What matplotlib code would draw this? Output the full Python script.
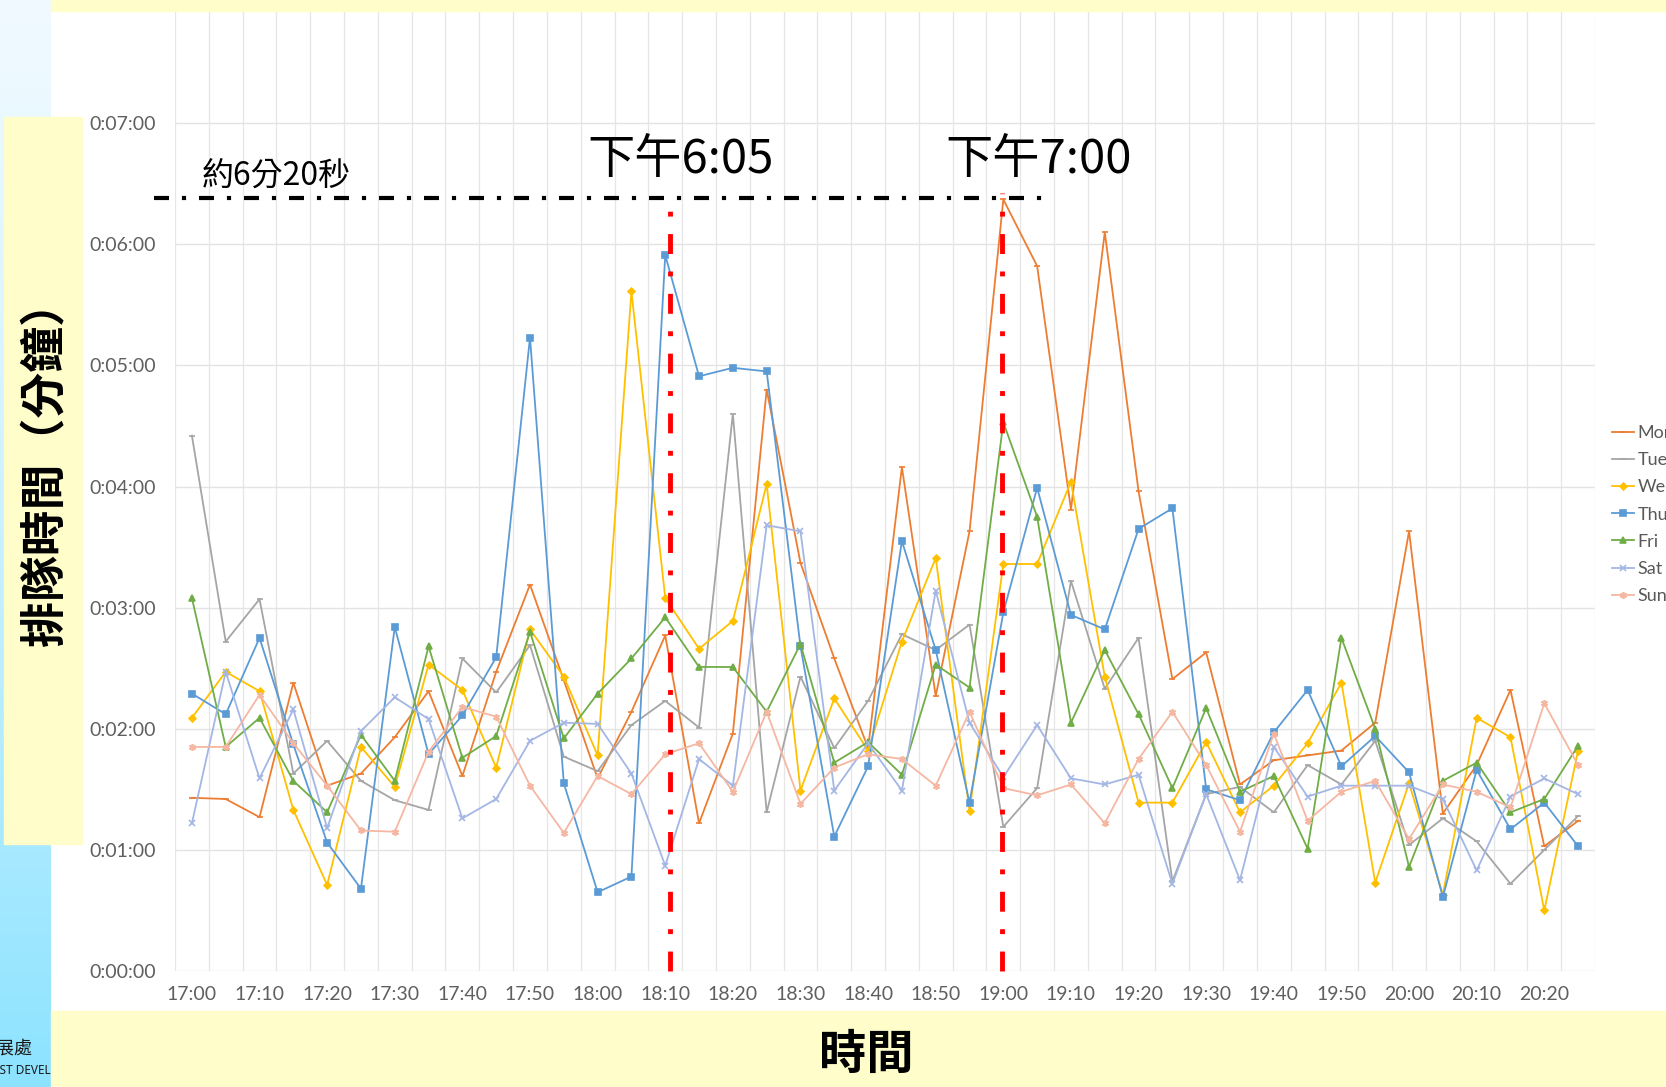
import numpy as np
import matplotlib
matplotlib.use("Agg")
import matplotlib.pyplot as plt
from matplotlib.patches import Rectangle
from matplotlib.ticker import FuncFormatter

plt.rcParams['font.family'] = ['Lato', 'Noto Sans CJK TC', 'DejaVu Sans']
CJK = ['Noto Sans CJK TC', 'DejaVu Sans']

# queue time in minutes, every 5 minutes from 17:00 to 20:25
times = [f"{17 + (m // 60)}:{m % 60:02d}" for m in range(0, 210, 5)]

mon = [1.43, 1.42, 1.27, 2.38, 1.53, 1.63, 1.93, 2.31, 1.61, 2.47, 3.19, 2.40, 1.59, 2.14,
       2.77, 1.22, 1.96, 4.80, 3.37, 2.58, 1.84, 4.16, 2.27, 3.63, 6.37, 5.82, 3.81, 6.10,
       3.96, 2.41, 2.63, 1.54, 1.74, 1.78, 1.82, 2.05, 3.63, 1.30, 1.70, 2.32, 1.03, 1.24]
tue = [4.42, 2.72, 3.07, 1.63, 1.90, 1.57, 1.41, 1.33, 2.58, 2.30, 2.69, 1.77, 1.65, 2.03,
       2.23, 2.01, 4.60, 1.31, 2.43, 1.84, 2.23, 2.78, 2.65, 2.86, 1.19, 1.51, 3.22, 2.33,
       2.75, 0.74, 1.46, 1.52, 1.31, 1.70, 1.54, 1.90, 1.04, 1.26, 1.07, 0.72, 1.00, 1.28]
wed = [2.09, 2.47, 2.31, 1.33, 0.71, 1.85, 1.52, 2.53, 2.32, 1.68, 2.82, 2.43, 1.78, 5.61,
       3.08, 2.66, 2.89, 4.02, 1.49, 2.25, 1.82, 2.72, 3.41, 1.32, 3.36, 3.36, 4.04, 2.43,
       1.39, 1.39, 1.89, 1.31, 1.53, 1.88, 2.38, 0.73, 1.55, 0.63, 2.09, 1.93, 0.50, 1.82]
thu = [2.29, 2.12, 2.75, 1.87, 1.06, 0.68, 2.84, 1.79, 2.11, 2.59, 5.23, 1.55, 0.65, 0.78,
       5.91, 4.91, 4.98, 4.95, 2.68, 1.11, 1.69, 3.55, 2.65, 1.39, 2.96, 3.99, 2.94, 2.82,
       3.65, 3.82, 1.50, 1.41, 1.97, 2.32, 1.69, 1.94, 1.64, 0.61, 1.66, 1.17, 1.39, 1.03]
fri = [3.08, 1.85, 2.09, 1.57, 1.31, 1.95, 1.57, 2.68, 1.76, 1.94, 2.80, 1.92, 2.29, 2.58,
       2.92, 2.51, 2.51, 2.14, 2.70, 1.72, 1.89, 1.62, 2.53, 2.34, 4.53, 3.75, 2.05, 2.65,
       2.12, 1.51, 2.17, 1.48, 1.61, 1.01, 2.75, 2.00, 0.86, 1.57, 1.72, 1.31, 1.42, 1.86]
sat = [1.22, 2.47, 1.59, 2.16, 1.18, 1.98, 2.26, 2.08, 1.26, 1.42, 1.90, 2.05, 2.04, 1.63,
       0.87, 1.75, 1.53, 3.68, 3.63, 1.49, 1.88, 1.49, 3.14, 2.05, 1.60, 2.03, 1.59, 1.54,
       1.62, 0.72, 1.46, 0.75, 1.85, 1.44, 1.53, 1.53, 1.53, 1.42, 0.83, 1.44, 1.59, 1.46]
sun = [1.85, 1.85, 2.28, 1.88, 1.53, 1.16, 1.15, 1.81, 2.18, 2.10, 1.53, 1.14, 1.61, 1.46,
       1.79, 1.88, 1.48, 2.14, 1.38, 1.68, 1.79, 1.75, 1.53, 2.14, 1.51, 1.45, 1.54, 1.22,
       1.75, 2.14, 1.70, 1.15, 1.96, 1.24, 1.48, 1.57, 1.09, 1.54, 1.48, 1.35, 2.21, 1.70]

days = ['Mon', 'Tue', 'Wed', 'Thu', 'Fri', 'Sat', 'Sun']
values = [mon, tue, wed, thu, fri, sat, sun]
colors = ['#ED7D31', '#A5A5A5', '#FFC000', '#5B9BD5', '#70AD47', '#A4B6E4', '#F5B7A2']
markers = ['_', '_', 'D', 's', '^', 'x', (6, 2, 0)]
msizes = [4, 4, 3.5, 4.5, 4.5, 4, 5]

ref_level = 6.38          # 約6分20秒
peak1_idx, peak1_top = 14.14, 6.33
peak2_idx, peak2_top = 23.97, 6.42

W, H = 1666, 1087


def fx(x):
    return x / W


def fy(y):
    return 1 - y / H


fig = plt.figure(figsize=(W / 100, H / 100), dpi=100)
fig.patch.set_facecolor('white')

# left gradient strip of the slide
strip = fig.add_axes([0, 0, fx(51), 1])
grad = np.linspace(0, 1, 256)[:, None]
top_c = np.array([0.94, 0.98, 1.0])
bot_c = np.array([0.55, 0.89, 1.0])
img = top_c + (bot_c - top_c) * grad[..., None] ** 1.3
strip.imshow(img, aspect='auto', extent=(0, 1, 0, 1), origin='upper')
strip.set_xlim(0, 1)
strip.set_ylim(0, 1)
strip.axis('off')
strip.text(0.64, 1 - 1049 / H, '發展處', ha='right', va='center', fontsize=13,
           family=CJK, color='#1a1a1a', clip_on=True)
strip.text(1.0, 1 - 1071 / H, 'EST DEVEL', ha='right', va='center', fontsize=8.5,
           family=['Noto Sans', 'DejaVu Sans'], color='#1a1a1a', clip_on=True)

ax = fig.add_axes([fx(175), fy(971), fx(1595) - fx(175), fy(2) - fy(971)])
x = np.arange(len(times))
for name, vals, c, m, ms in zip(days, values, colors, markers, msizes):
    ax.plot(x, vals, color=c, lw=1.3, marker=m, ms=ms, mew=1.2, label=name)

ax.set_xlim(-0.5, len(times) - 0.5)
ax.set_ylim(0, 8)
ax.set_yticks(range(0, 8))
ax.yaxis.set_major_formatter(FuncFormatter(lambda v, p: f"0:{int(v):02d}:00"))
ax.set_xticks(x[::2])
ax.set_xticklabels(times[::2])
ax.set_xticks(np.arange(-0.5, len(times)), minor=True)
ax.grid(True, which='minor', axis='x', color='#E6E6E6', lw=0.9)
ax.grid(True, which='major', axis='y', color='#E3E3E3', lw=1)
ax.set_axisbelow(True)
ax.tick_params(which='both', length=0)
ax.tick_params(axis='x', pad=11, labelsize=14, labelcolor='#5f5f5f')
ax.tick_params(axis='y', pad=14, labelsize=14, labelcolor='#5f5f5f')
for s in ax.spines.values():
    s.set_visible(False)

# annotations
ax.plot([-1.13, 25.4], [ref_level, ref_level], color='black', lw=3,
        ls=(0, (3.6, 3.1, 1.0, 3.1)), clip_on=False, zorder=5)
red_ls = (0, (4.1, 3.6, 1.0, 3.6))
ax.plot([peak1_idx, peak1_idx], [0, peak1_top], color='red', lw=3.5, ls=red_ls,
        clip_on=False, zorder=6)
ax.plot([peak2_idx, peak2_idx], [0, peak2_top], color='red', lw=3.5, ls=red_ls,
        clip_on=False, zorder=6)

fig.text(fx(202), fy(176), '約6分20秒', fontsize=23, family=CJK, va='center', ha='left')
fig.text(fx(587), fy(160), '下午6:05', fontsize=34, family=CJK, va='center', ha='left')
fig.text(fx(945), fy(160), '下午7:00', fontsize=34, family=CJK, va='center', ha='left')

leg = ax.legend(loc='upper left', bbox_to_anchor=(fx(1612), fy(425)),
                bbox_transform=fig.transFigure, frameon=False, fontsize=13,
                handlelength=1.2, handletextpad=0.2, labelspacing=0.62,
                borderaxespad=0, borderpad=0, labelcolor='#595959')

# slide bands
yellow = '#FFFDC9'
fig.add_artist(Rectangle((fx(51), fy(11)), 1 - fx(51), fy(0) - fy(11),
                         transform=fig.transFigure, color=yellow, zorder=10))
fig.add_artist(Rectangle((fx(51), 0), 1 - fx(51), fy(1011),
                         transform=fig.transFigure, color=yellow, zorder=10))
fig.add_artist(Rectangle((fx(4), fy(844)), fx(82) - fx(4), fy(117) - fy(844),
                         transform=fig.transFigure, color=yellow, zorder=10))
fig.text(fx(45), fy(463), '排隊時間（分鐘）', rotation=90, fontsize=33, weight='bold',
         family=CJK, ha='center', va='center', zorder=11)
fig.text(fx(866), fy(1055), '時間', fontsize=34, weight='bold', family=CJK,
         ha='center', va='center', zorder=11)

fig.savefig('out.png', dpi=100)
